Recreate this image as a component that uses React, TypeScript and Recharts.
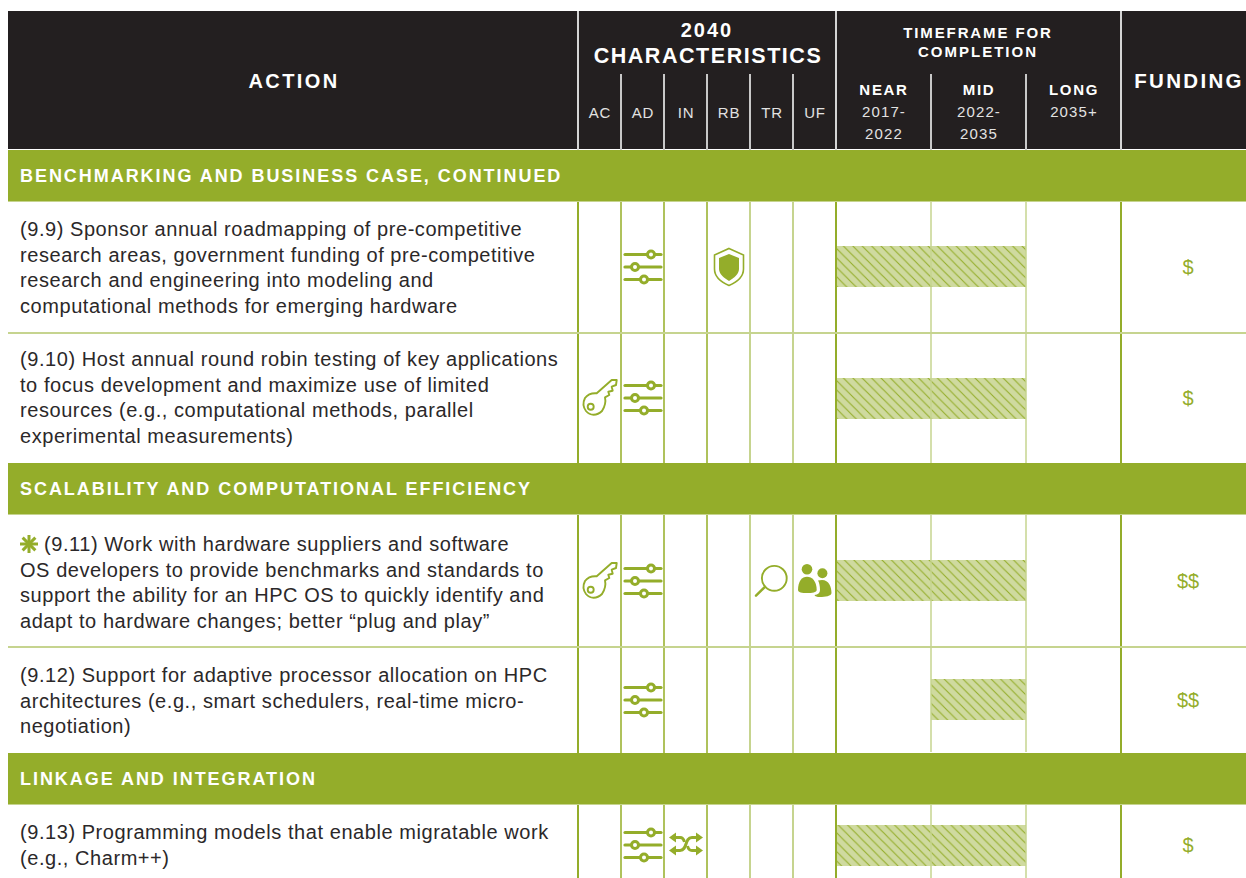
import * as React from 'react';
import { BarChart, Bar, XAxis, YAxis, ReferenceLine } from 'recharts';

// table content
const sections = ['BENCHMARKING AND BUSINESS CASE, CONTINUED', 'SCALABILITY AND COMPUTATIONAL EFFICIENCY', 'LINKAGE AND INTEGRATION'];
const rowIds = ['9.9', '9.10', '9.11', '9.12', '9.13'];
const rowLines = [
  ['(9.9) Sponsor annual roadmapping of pre-competitive', 'research areas, government funding of pre-competitive', 'research and engineering into modeling and', 'computational methods for emerging hardware'],
  ['(9.10) Host annual round robin testing of key applications', 'to focus development and maximize use of limited', 'resources (e.g., computational methods, parallel', 'experimental measurements)'],
  ['(9.11) Work with hardware suppliers and software', 'OS developers to provide benchmarks and standards to', 'support the ability for an HPC OS to quickly identify and', 'adapt to hardware changes; better “plug and play”'],
  ['(9.12) Support for adaptive processor allocation on HPC', 'architectures (e.g., smart schedulers, real-time micro-', 'negotiation)'],
  ['(9.13) Programming models that enable migratable work', '(e.g., Charm++)'],
];
const characteristics = ['AC', 'AD', 'IN', 'RB', 'TR', 'UF'];
const rowCharacteristics = [['AD', 'RB'], ['AC', 'AD'], ['AC', 'AD', 'TR', 'UF'], ['AD'], ['AD', 'IN']];
// timeframe columns: 0 = near start, 1 = mid start, 2 = long start, 3 = end
const timeSpans: [number, number][] = [[0, 2], [0, 2], [0, 2], [1, 2], [0, 2]];
const funding = ['$', '$', '$$', '$$', '$'];
const timeColumns = [
  { name: 'NEAR', years: ['2017-', '2022'] },
  { name: 'MID', years: ['2022-', '2035'] },
  { name: 'LONG', years: ['2035+'] },
];

// layout
const DARK = '#231f20';
const GREEN = '#94ad2a';
const LIGHT = '#c6d48f';
const BASE = '"Liberation Sans", Arial, sans-serif';
const rowTops = [201, 333, 515, 647, 804];
const rowHeights = [131, 130, 132, 106, 82];
const chartTops = [201, 333, 514, 646, 804];
const textTops = [217, 347, 532, 663, 820];
const bandTops = [150, 463, 753];
const charX = [600, 643, 686, 729, 772, 815];
const chartX = 836;
const chartW = 285;

const abs = (left: number, top: number, extra: React.CSSProperties = {}): React.CSSProperties => ({ position: 'absolute', left, top, ...extra });

const Centered = ({ x, y, w = 200, style, children }: any) => (
  <div style={{ position: 'absolute', left: x - w / 2, top: y - 15, width: w, height: 30, lineHeight: '30px', textAlign: 'center', whiteSpace: 'nowrap', ...style }}>{children}</div>
);

const Sliders = () => (
  <g stroke={GREEN} fill="none">
    {[[-12.5, 8], [0, -8], [12.5, 1]].map(([y, k]) => (
      <g key={y}>
        <line x1={-18} x2={18} y1={y} y2={y} strokeWidth={3.2} strokeLinecap="round" />
        <circle cx={k} cy={y} r={3.5} fill="#fff" strokeWidth={3} />
      </g>
    ))}
  </g>
);

const Key = () => (
  <g stroke={GREEN} fill="#fff" strokeWidth={1.9} strokeLinejoin="round">
    <path d="M-15 0 C-12 -4 -7 -5 -3.3 -4.7 L11.7 -18 L16.7 -18 L16 -13 L11.7 -11.3 L12.7 -7.3 L8.3 -6.3 L9.3 -3 L5 -0.7 C6 4 4 10 2 13 C-3 18 -10 18 -14 13 C-17 9 -17 4 -15 0 Z" />
    <circle cx={-9.3} cy={8.7} r={3} />
  </g>
);

const Shield = () => (
  <g>
    <path d="M0 -18.5 L14.5 -12 L14.5 2 C14.5 10 7 15.5 0 18.5 C-7 15.5 -14.5 10 -14.5 2 L-14.5 -12 Z" fill="#fff" stroke={GREEN} strokeWidth={1.6} />
    <path d="M0 -13 L10 -9 L10 2 C10 7 5 11 0 14 C-5 11 -10 7 -10 2 L-10 -9 Z" fill={GREEN} />
  </g>
);

const Magnifier = () => (
  <g stroke={GREEN} fill="none" strokeWidth={1.9}>
    <circle cx={2.3} cy={-2.7} r={12.4} />
    <line x1={-7} y1={5.8} x2={-16} y2={14.7} strokeWidth={2.4} strokeLinecap="round" />
  </g>
);

const People = () => (
  <g fill={GREEN}>
    <circle cx={-8} cy={-11.7} r={5.3} />
    <path d="M-8 -4.3 C-13 -4.3 -17 0 -17 9 C-17 11.5 -13 12 -8 12 C-3 12 1.7 11.5 1.7 9 C1.7 0 -3 -4.3 -8 -4.3 Z" />
    <circle cx={7.4} cy={-7.7} r={5} />
    <path d="M7 -1 C14 -1 16.5 6 16.5 12 C16.5 15 10 16 5 16 C2 16 0 15.5 -0.5 14 C3 13.5 5 12 5 9 C5 5 4 1 3 -0.5 Z" />
  </g>
);

const Shuffle = () => (
  <g>
    <g stroke={GREEN} fill="none" strokeWidth={3}>
      <path d="M-12 5.5 H-6 C2 5.5 -2 -7.5 6 -7.5 H11" />
      <path d="M-12 -7.5 H-6 C-3 -7.5 -2 -5 -1.5 -3" />
      <path d="M12 5.5 H6 C3 5.5 2 3 1.5 1" />
    </g>
    <g fill={GREEN}>
      <path d="M-17 -7.5 L-10 -12.5 L-10 -2.5 Z" />
      <path d="M17 -7.5 L10 -12.5 L10 -2.5 Z" />
      <path d="M-17 5.5 L-10 0.5 L-10 10.5 Z" />
      <path d="M17 5.5 L10 0.5 L10 10.5 Z" />
    </g>
  </g>
);

const icons: Record<string, React.FC> = { AC: Key, AD: Sliders, IN: Shuffle, RB: Shield, TR: Magnifier, UF: People };

const Asterisk = () => (
  <svg width={18} height={20} viewBox="-9 -10 18 20" style={{ verticalAlign: '-3px', marginRight: 6 }}>
    {[0, 45, 90, 135].map((a) => (
      <line key={a} x1={0} y1={-9} x2={0} y2={9} stroke={GREEN} strokeWidth={3} transform={`rotate(${a})`} />
    ))}
  </svg>
);

// one small chart per table row, all sharing the 0-3 timeframe scale
const TimeframeChart = ({ index }: { index: number }) => {
  const data = [{ row: rowIds[index], span: timeSpans[index] }];
  const id = `hatch-${index}`;
  return (
    <div style={abs(chartX, chartTops[index])}>
      <BarChart width={chartW} height={rowHeights[index]} data={data} layout="vertical" margin={{ top: 0, right: 0, bottom: 0, left: 0 }}>
        <defs>
          <pattern id={id} patternUnits="userSpaceOnUse" width={9.4} height={9.4}>
            <rect width={9.4} height={9.4} fill="#cfda9f" />
            <path d="M-1 -1 L10.4 10.4 M-1 8.4 L1 10.4 M8.4 -1 L10.4 1" stroke={GREEN} strokeWidth={1.1} />
          </pattern>
        </defs>
        <XAxis type="number" domain={[0, 3]} hide />
        <YAxis type="category" dataKey="row" hide />
        <Bar dataKey="span" barSize={41} fill={`url(#${id})`} isAnimationActive={false} />
        <ReferenceLine x={1} stroke={LIGHT} strokeWidth={1.5} />
        <ReferenceLine x={2} stroke={LIGHT} strokeWidth={1.5} />
      </BarChart>
    </div>
  );
};

const App = () => {
  const strong = [578, 836, 1121];
  const medium = [621, 664, 707];
  const light = [750, 793];
  return (
    <div style={{ position: 'absolute', left: 0, top: 0, width: 1246, height: 878, overflow: 'hidden', background: '#fff', fontFamily: BASE, color: DARK }}>
      {rowIds.map((_, i) => <TimeframeChart key={i} index={i} />)}

      {/* column rules of the body */}
      {strong.map((x) => <div key={x} style={abs(x - 1, 150, { width: 2, height: 728, background: GREEN })} />)}
      {medium.map((x) => <div key={x} style={abs(x - 0.75, 150, { width: 1.5, height: 728, background: '#afc25c' })} />)}
      {light.map((x) => <div key={x} style={abs(x - 0.75, 150, { width: 1.5, height: 728, background: LIGHT })} />)}

      {/* row separators */}
      {[332, 646].map((y) => <div key={y} style={abs(8, y, { width: 1238, height: 1.5, background: LIGHT })} />)}

      {/* header */}
      <div style={abs(8, 11, { width: 1238, height: 138, background: DARK })} />
      {strong.map((x) => <div key={x} style={abs(x - 1, 11, { width: 2, height: 139, background: '#d4d4d4' })} />)}
      {[...medium, ...light, 931, 1026].map((x) => <div key={x} style={abs(x - 0.75, 74, { width: 1.5, height: 76, background: '#c8c8c8' })} />)}
      <div style={{ color: '#fff', fontWeight: 700 }}>
        <Centered x={294} y={81} w={300} style={{ fontSize: 20, letterSpacing: 2.4 }}>ACTION</Centered>
        <Centered x={707} y={30} style={{ fontSize: 20, letterSpacing: 2 }}>2040</Centered>
        <Centered x={708} y={56} w={300} style={{ fontSize: 21.5, letterSpacing: 1.55 }}>CHARACTERISTICS</Centered>
        <Centered x={978} y={33} w={280} style={{ fontSize: 15, letterSpacing: 1.9 }}>TIMEFRAME FOR</Centered>
        <Centered x={978} y={52} w={280} style={{ fontSize: 15, letterSpacing: 2 }}>COMPLETION</Centered>
        <Centered x={1189} y={81} w={140} style={{ fontSize: 20.5, letterSpacing: 2.3 }}>FUNDING</Centered>
      </div>
      {characteristics.map((c, i) => (
        <Centered key={c} x={charX[i]} y={113} w={42} style={{ color: '#e2e2e2', fontSize: 15, letterSpacing: 0.8 }}>{c}</Centered>
      ))}
      {timeColumns.map((t, i) => (
        <React.Fragment key={t.name}>
          <Centered x={884 + i * 95} y={90} w={90} style={{ color: '#fff', fontWeight: 700, fontSize: 15, letterSpacing: 1.7 }}>{t.name}</Centered>
          {t.years.map((yr, j) => (
            <Centered key={yr} x={884 + i * 95} y={112 + j * 22} w={90} style={{ color: '#e2e2e2', fontSize: 15, letterSpacing: 1.1 }}>{yr}</Centered>
          ))}
        </React.Fragment>
      ))}

      {/* section bands */}
      {sections.map((s, i) => (
        <div key={s} style={abs(8, bandTops[i], { width: 1238, height: 51, background: GREEN, borderBottom: `1.5px solid ${LIGHT}`, boxSizing: 'content-box' })}>
          <div style={{ position: 'absolute', left: 12, top: 1, lineHeight: '50px', color: '#fff', fontWeight: 700, fontSize: 18, letterSpacing: 1.95, whiteSpace: 'nowrap' }}>{s}</div>
        </div>
      ))}

      {/* rows */}
      {rowIds.map((id, i) => {
        const center = rowTops[i] + rowHeights[i] / 2;
        return (
          <React.Fragment key={id}>
            <div style={abs(20, textTops[i], { fontSize: 20, letterSpacing: 0.56, lineHeight: '25.6px', whiteSpace: 'nowrap', color: '#2b2829' })}>
              {rowLines[i].map((line, j) => (
                <div key={j}>{id === '9.11' && j === 0 ? <Asterisk /> : null}{line}</div>
              ))}
            </div>
            {rowCharacteristics[i].map((c) => {
              const Icon = icons[c];
              return (
                <svg key={c} width={42} height={44} viewBox="-21 -22 42 44" style={abs(charX[characteristics.indexOf(c)] - 21, center - 22)}>
                  <Icon />
                </svg>
              );
            })}
            <Centered x={1188} y={center} w={100} style={{ color: GREEN, fontSize: 20 }}>{funding[i]}</Centered>
          </React.Fragment>
        );
      })}
    </div>
  );
};

export default App;
